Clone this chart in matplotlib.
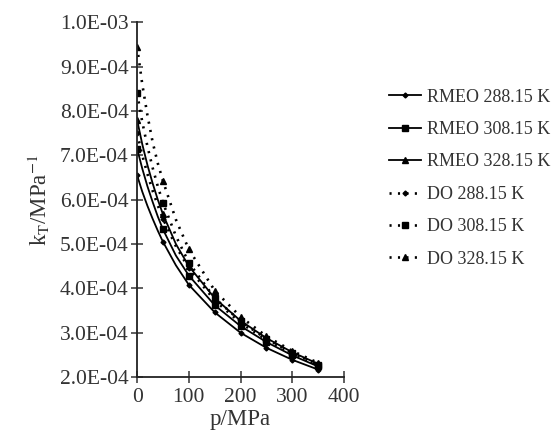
import matplotlib
matplotlib.use("Agg")
import matplotlib.pyplot as plt

p = [0, 10, 20, 30, 40, 50, 75, 100, 150, 200, 250, 300, 350]
marker_idx = [0, 5, 7, 8, 9, 10, 11, 12]

rmeo_288 = [6.55, 6.18, 5.86, 5.57, 5.30, 5.05, 4.52, 4.08, 3.46, 3.00, 2.66, 2.39, 2.17]
rmeo_308 = [7.15, 6.70, 6.30, 5.95, 5.62, 5.33, 4.74, 4.29, 3.62, 3.15, 2.79, 2.49, 2.24]
rmeo_328 = [7.80, 7.25, 6.78, 6.37, 6.00, 5.67, 5.00, 4.50, 3.78, 3.27, 2.88, 2.56, 2.30]
do_288 = [7.50, 7.00, 6.58, 6.20, 5.87, 5.57, 4.95, 4.45, 3.73, 3.22, 2.84, 2.53, 2.27]
do_308 = [8.40, 7.75, 7.20, 6.72, 6.30, 5.93, 5.18, 4.58, 3.78, 3.26, 2.86, 2.54, 2.28]
do_328 = [9.45, 8.60, 7.90, 7.30, 6.82, 6.42, 5.55, 4.88, 3.95, 3.36, 2.92, 2.59, 2.32]

labels = ["RMEO 288.15 K", "RMEO 308.15 K", "RMEO 328.15 K",
          "DO 288.15 K", "DO 308.15 K", "DO 328.15 K"]
series = [rmeo_288, rmeo_308, rmeo_328, do_288, do_308, do_328]
markers = ["D", "s", "^", "D", "s", "^"]
msizes = [2.5, 5, 4, 2.5, 5, 4]
styles = ["-", "-", "-", (0, (0.8, 2.4)), (0, (0.8, 2.4)), (0, (0.8, 2.4))]

yticks = [2e-4, 3e-4, 4e-4, 5e-4, 6e-4, 7e-4, 8e-4, 9e-4, 1e-3]
ytick_labels = ["2.0E-04", "3.0E-04", "4.0E-04", "5.0E-04", "6.0E-04",
                "7.0E-04", "8.0E-04", "9.0E-04", "1.0E-03"]
xticks = [0, 100, 200, 300, 400]

plt.rcParams['font.family'] = ['Liberation Serif', 'DejaVu Serif']
plt.rcParams['mathtext.fontset'] = 'stix'

fig = plt.figure(figsize=(5.55, 4.34), dpi=100)
ax = fig.add_axes([0.247, 0.131, 0.373, 0.818])

for vals, lab, mk, ms, ls in zip(series, labels, markers, msizes, styles):
    lw = 1.3 if ls == "-" else 1.9
    ax.plot(p, [v * 1e-4 for v in vals], color="black", linestyle=ls, linewidth=lw,
            marker=mk, markersize=ms, markevery=marker_idx, label=lab,
            markerfacecolor="black", markeredgecolor="black")

ax.set_xlim(0, 400)
ax.set_ylim(2e-4, 1e-3)
ax.set_xticks(xticks)
ax.set_xticklabels([str(x) for x in xticks])
ax.set_yticks(yticks)
ax.set_yticklabels(ytick_labels)
ax.tick_params(direction="inout", length=8, width=1.1, labelsize=15.5, colors="#333333",
               labelcolor="#333333")
ax.tick_params(axis="x", pad=4)
ax.tick_params(axis="y", pad=2)
for s in ["top", "right"]:
    ax.spines[s].set_visible(False)
for s in ["left", "bottom"]:
    ax.spines[s].set_linewidth(1.3)
    ax.spines[s].set_color("#222222")

ax.set_xlabel("p/MPa", fontsize=16.5, color="#333333", labelpad=1)
ax.set_ylabel(r"k$_\mathrm{T}$/MPa$^{-1}$", fontsize=16.5, color="#333333", labelpad=6)

leg = ax.legend(loc="upper left", bbox_to_anchor=(1.138, 0.858), frameon=False,
                fontsize=13, handlelength=1.8, handletextpad=0.3, labelspacing=0.85,
                labelcolor="#333333", borderaxespad=0.5)

fig.savefig("out.png", dpi=100)
